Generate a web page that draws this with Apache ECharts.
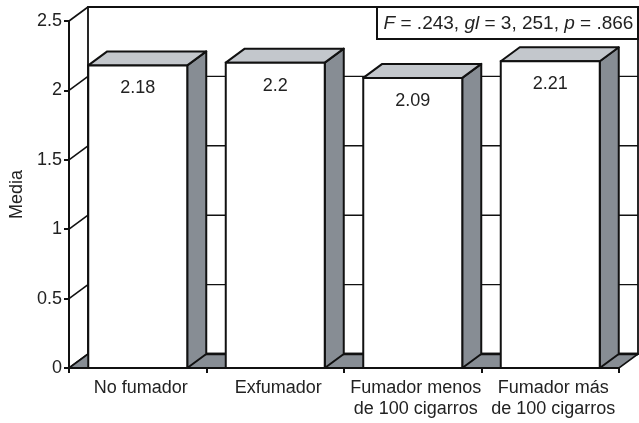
<!DOCTYPE html>
<html>
<head>
<meta charset="utf-8">
<script src="https://cdn.jsdelivr.net/npm/echarts@6/dist/echarts.min.js"></script>
<style>
html,body{margin:0;padding:0;background:#fff;}
#c{width:639px;height:423px;}
</style>
</head>
<body>
<div id="c"></div>
<script>
const categories = ['No fumador', 'Exfumador', 'Fumador menos\nde 100 cigarros', 'Fumador más\nde 100 cigarros'];
const means = [2.18, 2.2, 2.09, 2.21];
const yTicks = [0, 0.5, 1, 1.5, 2, 2.5];
const yName = 'Media';
const statText = '{i|F} = .243, {i|gl} = 3, 251, {i|p} = .866';

const DX = 19, DY = -14;
const FONT = '"Liberation Sans", Arial, Helvetica, sans-serif';
const SIDE = '#878d94', TOP = '#c3c7cc', TXT = '#222';

const chart = echarts.init(document.getElementById('c'), null, {renderer: 'canvas'});

function wallsRender(params, api) {
  const cs = params.coordSys;
  const x0 = cs.x, x1 = cs.x + cs.width;
  const yBase = api.coord([0, yTicks[0]])[1];
  const yTopV = api.coord([0, yTicks[yTicks.length - 1]])[1];
  const children = [];
  // back wall
  children.push({type: 'rect', shape: {x: x0 + DX, y: yTopV + DY, width: cs.width, height: yBase - yTopV},
    style: {fill: '#fff', stroke: '#111', lineWidth: 1.8}});
  // gridlines on back wall and side wall
  yTicks.forEach(function (t) {
    const y = api.coord([0, t])[1];
    children.push({type: 'line', shape: {x1: x0 + DX, y1: y + DY, x2: x1 + DX, y2: y + DY},
      style: {stroke: '#111', lineWidth: t === 0 ? 2.5 : 1.4}});
    children.push({type: 'line', shape: {x1: x0, y1: y, x2: x0 + DX, y2: y + DY},
      style: {stroke: '#111', lineWidth: 1.6}});
  });
  // floor
  children.push({type: 'polygon', shape: {points: [[x0, yBase], [x1, yBase], [x1 + DX, yBase + DY], [x0 + DX, yBase + DY]]},
    style: {fill: SIDE, stroke: '#111', lineWidth: 1.6}});
  children.push({type: 'line', shape: {x1: x0 + DX, y1: yBase + DY, x2: x1 + DX, y2: yBase + DY},
    style: {stroke: '#111', lineWidth: 2.5}});
  // statistics box anchored at top-right corner of back wall
  const bw = 261, bh = 32;
  const bx = x1 + DX - bw, by = yTopV + DY;
  children.push({type: 'rect', shape: {x: bx, y: by, width: bw, height: bh},
    style: {fill: '#fff', stroke: '#111', lineWidth: 2}});
  children.push({type: 'text', x: bx + bw / 2 + 1, y: by + bh / 2 + 1,
    style: {text: statText, align: 'center', verticalAlign: 'middle', fill: TXT,
      fontSize: 19, fontFamily: FONT,
      rich: {i: {fontStyle: 'italic', fontSize: 19, fontFamily: FONT, fill: TXT}}}});
  return {type: 'group', children: children};
}

function barRender(params, api) {
  const i = api.value(0), v = api.value(1);
  const top = api.coord([i, v]);
  const base = api.coord([i, 0]);
  const w = api.size([1, 0])[0] * 0.72;
  const l = top[0] - w / 2, r = top[0] + w / 2;
  const yT = top[1], yB = base[1];
  return {type: 'group', children: [
    {type: 'polygon', shape: {points: [[r, yT], [r + DX, yT + DY], [r + DX, yB + DY], [r, yB]]},
      style: {fill: SIDE, stroke: '#111', lineWidth: 2, lineJoin: 'round'}},
    {type: 'polygon', shape: {points: [[l, yT], [r, yT], [r + DX, yT + DY], [l + DX, yT + DY]]},
      style: {fill: TOP, stroke: '#111', lineWidth: 2, lineJoin: 'round'}},
    {type: 'rect', shape: {x: l, y: yT, width: w, height: yB - yT},
      style: {fill: '#fff', stroke: '#111', lineWidth: 2}},
    {type: 'text', x: top[0], y: yT + 23,
      style: {text: String(v), fill: TXT, fontSize: 18, fontFamily: FONT, align: 'center', verticalAlign: 'middle'}}
  ]};
}

chart.setOption({
  animation: false,
  backgroundColor: '#fff',
  grid: {left: 69, right: 20, top: 21, bottom: 55, containLabel: false},
  xAxis: {
    type: 'category', data: categories, boundaryGap: true, z: 5,
    axisLine: {lineStyle: {color: '#111', width: 2}},
    axisTick: {show: true, length: 5, lineStyle: {color: '#111', width: 2}},
    axisLabel: {interval: 0, color: TXT, fontSize: 18, fontFamily: FONT, margin: 10, lineHeight: 21,
      padding: [0, 0, 0, 6]},
    splitLine: {show: false}
  },
  yAxis: {
    type: 'value', min: 0, max: 2.5, interval: 0.5, z: 5,
    name: yName, nameLocation: 'middle', nameGap: 38, nameRotate: 90,
    nameTextStyle: {color: TXT, fontSize: 18, fontFamily: FONT},
    axisLine: {show: true, lineStyle: {color: '#111', width: 2}},
    axisTick: {show: true, length: 5, lineStyle: {color: '#111', width: 2}},
    axisLabel: {color: TXT, fontSize: 18, fontFamily: FONT, margin: 7},
    splitLine: {show: false}
  },
  series: [
    {type: 'custom', name: 'walls', z: 1, renderItem: wallsRender, data: [[0, 0]], silent: true, clip: false},
    {type: 'custom', name: 'Media', z: 2, renderItem: barRender, data: means.map(function (v, i) { return [i, v]; })}
  ]
});
</script>
</body>
</html>
